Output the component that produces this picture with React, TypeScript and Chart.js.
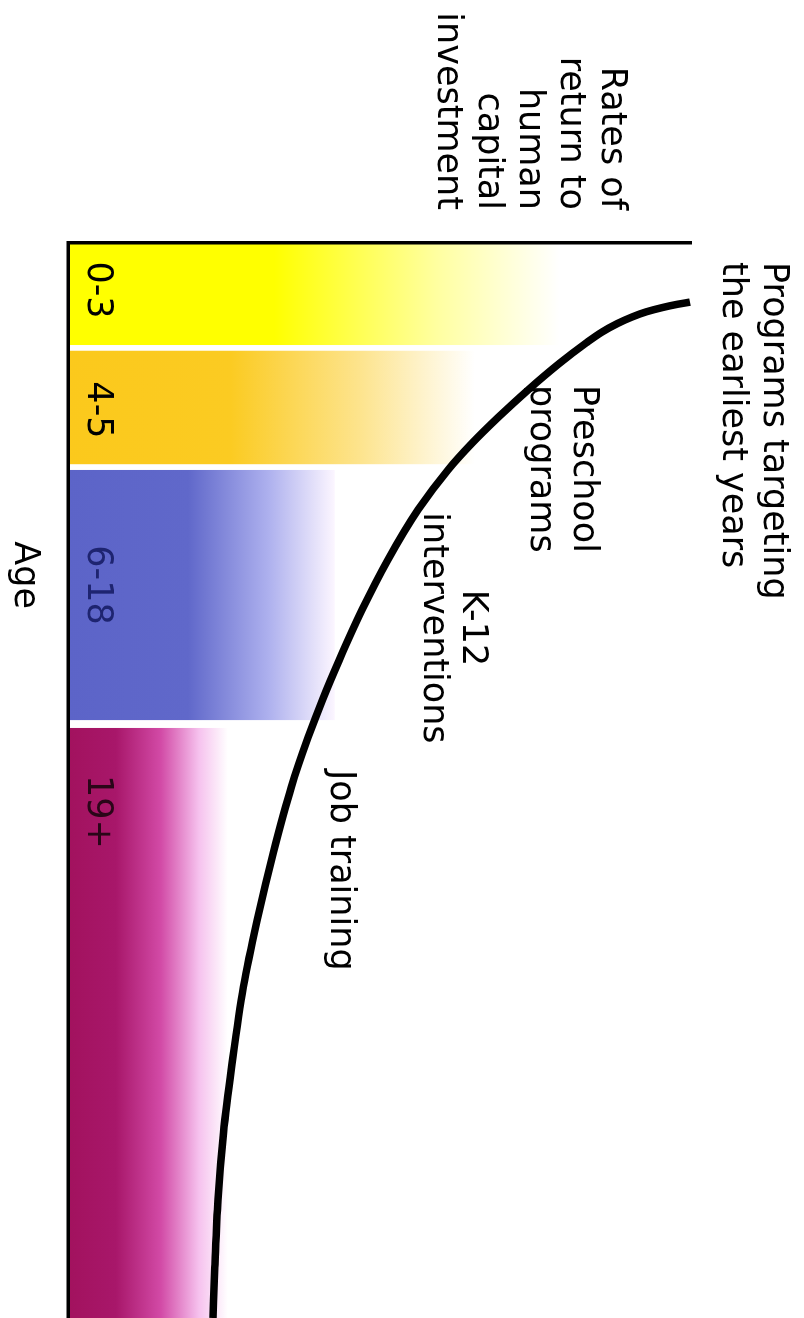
import React, { useEffect, useRef } from "react";
import { Chart, registerables } from "chart.js";

Chart.register(...registerables);

// ---------- data (schematic units: age position 0-100, rate of return 0-100) ----------
const ageBands = ["0-3", "4-5", "6-18", "19+"];
const bandFrom = [0, 10.0, 21.1, 45.1];
const bandTo = [9.5, 20.6, 44.4, 100];
const bandReturn = [79, 65.4, 42.9, 25.7];

const curveAge = [5.5, 5.7, 6.0, 6.4, 6.9, 7.5, 8.3, 9.3, 11.2, 13.7, 16.2, 18.6, 21.1, 24.8, 29.5, 34.1, 38.8, 42.5, 46.0, 50.6, 56.7, 63.0, 69.2, 76.7, 82.8, 89.0, 95.3, 100];
const curveReturn = [100, 98.0, 95.6, 93.0, 90.6, 88.3, 85.8, 83.3, 79.0, 73.9, 69.2, 65.0, 61.1, 56.3, 51.4, 47.3, 43.6, 40.9, 38.6, 35.9, 33.0, 30.4, 28.2, 26.3, 25.0, 24.1, 23.6, 23.3];

const programLabels = [
  ["Programs targeting", "the earliest years"],
  ["Preschool", "programs"],
  ["K-12", "interventions"],
  ["Job training"],
];
const yTitleLines = ["Rates of", "return to", "human", "capital", "investment"];
const xTitle = "Age";

// ---------- layout / style ----------
const programAnchorX = [1.77, 13.21, 35.81, 49.02];
const programAnchorY = [[111.9, 105.3], [81.35, 74.44], [63.5, 57.2], [42.28]];
const programAlign = ["left", "left", "center", "left"];
const bandLabelX = [4.37, 15.53, 31.81, 52.93];
const bandLabelY = 3.2;
const bandLabelColors = ["#000000", "#000000", "#1e2470", "#2a0618"];
const yTitleX = -3.07;
const yTitleY = [85.85, 79.26, 72.67, 66.08, 59.49];
const xTitleX = 30.9;
const xTitleY = -8.5;

const bandStops: [number, string][][] = [
  [[0, "#ffff00"], [0.42, "#ffff00"], [0.75, "#ffffa0"], [1, "#ffffff"]],
  [[0, "#fbc91c"], [0.4, "#fbcb22"], [0.72, "#fde48e"], [1, "#ffffff"]],
  [[0, "#5c64c8"], [0.45, "#6068ca"], [0.75, "#adb0ee"], [1, "#fcf6ff"]],
  [[0, "#a2125e"], [0.3, "#a8176a"], [0.58, "#d24aa6"], [0.82, "#f6c2ee"], [1, "#ffffff"]],
];

const FONT = '35px "DejaVu Sans", Verdana, sans-serif';

const textPlugin = {
  id: "heckmanText",
  afterDraw(chart: any) {
    const { ctx } = chart;
    const xs = chart.scales.x;
    const ys = chart.scales.y;
    ctx.save();
    ctx.font = FONT;
    ctx.textBaseline = "alphabetic";
    ctx.fillStyle = "#000";
    programLabels.forEach((lines, i) => {
      ctx.textAlign = programAlign[i];
      lines.forEach((line, j) => {
        ctx.fillText(line, xs.getPixelForValue(programAnchorX[i]), ys.getPixelForValue(programAnchorY[i][j]));
      });
    });
    ctx.textAlign = "center";
    ageBands.forEach((lab, i) => {
      ctx.fillStyle = bandLabelColors[i];
      ctx.fillText(lab, xs.getPixelForValue(bandLabelX[i]), ys.getPixelForValue(bandLabelY));
    });
    ctx.fillStyle = "#000";
    ctx.textAlign = "right";
    yTitleLines.forEach((line, j) => {
      ctx.fillText(line, xs.getPixelForValue(yTitleX), ys.getPixelForValue(yTitleY[j]));
    });
    ctx.textAlign = "center";
    ctx.fillText(xTitle, xs.getPixelForValue(xTitleX), ys.getPixelForValue(xTitleY));
    ctx.restore();
  },
};

export default function App() {
  const ref = useRef<HTMLCanvasElement | null>(null);

  useEffect(() => {
    const canvas = ref.current;
    if (!canvas) return;

    const bandDatasets = ageBands.map((lab, i) => ({
      label: lab,
      data: [
        { x: bandFrom[i], y: bandReturn[i] },
        { x: bandTo[i], y: bandReturn[i] },
      ],
      fill: "origin",
      tension: 0,
      borderWidth: 0,
      pointRadius: 0,
      backgroundColor: (c: any) => {
        const chart = c.chart;
        if (!chart.chartArea) return bandStops[i][0][1];
        const ys = chart.scales.y;
        const g = chart.ctx.createLinearGradient(0, ys.getPixelForValue(0), 0, ys.getPixelForValue(bandReturn[i]));
        bandStops[i].forEach(([p, col]) => g.addColorStop(p, col));
        return g;
      },
    }));

    const curveDataset = {
      label: "Rate of return",
      data: curveAge.map((a, i) => ({ x: a, y: curveReturn[i] })),
      borderColor: "#000",
      borderWidth: 7.5,
      fill: false,
      pointRadius: 0,
      cubicInterpolationMode: "monotone",
      clip: false,
    };

    const chart = new Chart(canvas, {
      type: "line",
      data: { datasets: [curveDataset as any, ...(bandDatasets as any)] },
      options: {
        animation: false,
        responsive: false,
        events: [],
        layout: { padding: { left: 243, right: 0, top: 114, bottom: 68 } },
        plugins: { legend: { display: false }, tooltip: { enabled: false } },
        scales: {
          x: {
            type: "linear",
            min: 0,
            max: 100,
            grid: { display: false, drawTicks: false },
            ticks: { display: false },
            border: { display: true, color: "#000", width: 3.5, z: 1 },
          },
          y: {
            type: "linear",
            min: 0,
            max: 100,
            grid: { display: false, drawTicks: false },
            ticks: { display: false },
            border: { display: true, color: "#000", width: 3.5, z: 1 },
          },
        },
      },
      plugins: [textPlugin as any],
    });

    return () => chart.destroy();
  }, []);

  return (
    <div style={{ position: "absolute", left: 0, top: 0, width: 804, height: 1318, overflow: "hidden", background: "#fff" }}>
      <div
        style={{
          position: "absolute",
          left: 0,
          top: 0,
          width: 1318,
          height: 804,
          transform: "translate(804px, 0px) rotate(90deg)",
          transformOrigin: "0 0",
        }}
      >
        <canvas ref={ref} width={1318} height={804} style={{ display: "block", width: 1318, height: 804 }} />
      </div>
    </div>
  );
}
